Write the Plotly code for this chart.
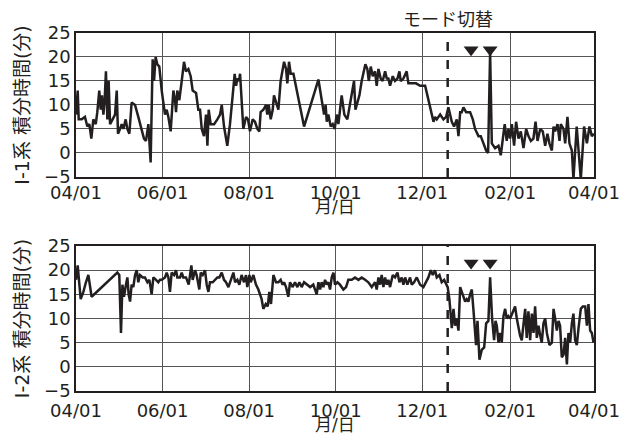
import pandas as pd
import plotly.graph_objects as go

BASE = pd.Timestamp("2018-04-01")

# ---- I-1 series (day offset from 04/01, value) ----
top_days = [0, 1.2, 1.9, 4.0, 6.3, 8.0, 9.4, 10.8, 12.2, 13.9, 15.0, 16.4, 17.4, 18.3, 19.3, 20.2,
            21.1, 22.1, 23.0, 24.0, 25.8, 27.5, 28.7, 29.6, 31.0, 32.2, 33.4, 35.0, 36.2, 37.6,
            39.2, 41.6, 43.9, 46.3, 47.9, 49.3, 51.0, 52.6, 54.0, 55.0, 56.1, 57.3, 58.7, 60.4,
            62.7, 63.9, 65.1, 66.7, 68.6, 69.8, 70.5, 71.4, 72.8, 74.5, 76.1, 77.5, 79.2, 80.8,
            82.2, 84.6, 86.2, 87.4, 88.6, 90.2, 91.6, 92.6, 93.5, 94.9, 97.3, 99.6, 101.5, 102.7,
            104.3, 106.6, 108.5, 110.4, 111.8, 112.8, 113.7, 114.9, 115.6, 116.7, 117.9, 119.8,
            121.2, 122.6, 124.5, 126.1, 127.8, 129.2, 130.1, 132.0, 133.9, 134.8, 135.8, 137.2,
            138.6, 139.5, 140.9, 142.6, 144.2, 145.6, 146.6, 148.0, 148.9, 150.1, 151.3, 153.2,
            155.5, 157.9, 160.7, 170.8, 173.1, 174.8, 175.9, 176.7, 177.8, 179.5, 180.9, 182.3,
            183.7, 184.9, 187.2, 189.1, 191.2, 193.6, 194.5, 195.9, 196.9, 197.8, 199.7, 201.3,
            202.5, 203.9, 205.3, 206.3, 207.7, 209.1, 210.7, 211.9, 213.1, 214.7, 216.1, 217.8,
            219.0, 220.1, 221.3, 223.2, 224.8, 226.5, 227.9, 228.8, 230.7, 233.0, 234.2, 236.6,
            239.6, 242.5, 246.0, 247.6, 250.0, 251.9, 253.0, 254.2, 256.6, 258.9, 260.8, 262.4,
            264.8, 266.4, 268.3, 269.5, 270.7, 271.8, 273.0, 274.9, 277.7, 279.6, 281.2, 283.6,
            285.2, 287.1, 289.0, 290.4, 291.8, 293.0, 295.3, 297.7, 299.3, 301.2, 302.1, 303.5,
            304.7, 305.9, 307.1, 308.7, 310.1, 311.8, 313.4, 315.3, 317.2, 318.8, 320.5, 322.3,
            323.8, 325.2, 327.1, 328.9, 330.6, 332.2, 333.6, 335.3, 336.5, 337.6, 339.3, 340.7,
            341.6, 343.5, 344.7, 346.3, 347.7, 349.4, 350.5, 352.8, 355.7, 358.0, 360.0, 361.8,
            363.5, 365.0]
top_vals = [8, 13, 7, 7, 7.5, 5.5, 6, 3, 7, 6, 8.5, 13, 9, 12, 8, 11,
            17, 7, 15, 6, 7, 8, 13, 4, 5, 6, 5, 7, 5, 4,
            10.5, 10, 7.5, 5, 3, 2.5, 6, -2, 19.5, 15, 20, 18.5, 18, 13,
            8, 9, 7.5, 4.5, 13, 11, 8.5, 13, 11, 15, 19, 17, 17.5, 16,
            13, 12.5, 9, 9, 5, 3.5, 8, 1.5, 9, 6, 6, 7, 8, 10,
            5.5, 1.5, 6, 12, 16.5, 14, 15.5, 15, 16.5, 11, 5, 7.5,
            7, 4.5, 7, 6.5, 5, 4.5, 8.5, 9, 10, 8, 10, 7,
            9, 12, 10.5, 9, 15, 17.5, 19, 17.5, 14.5, 19, 16.5, 16.5,
            13, 9, 5.5, 15.3, 11, 8, 10, 6.5, 8, 5.5, 6, 5,
            8, 6, 12, 8, 7, 11, 13, 15, 9, 10, 12, 15,
            17, 18.5, 17.5, 15, 18, 16, 17, 14, 17.5, 15.5, 15, 17,
            15.5, 15.5, 14, 16, 15, 15.5, 17, 15, 15.5, 17, 14.5, 14.5,
            14.5, 14, 14, 12, 9, 6.5, 7.5, 7, 8, 7, 7.5, 9.5,
            6.5, 5.5, 7, 3.5, 8.5, 8.5, 9.5, 8.5, 8.5, 7, 5, 3.5,
            3.5, 2, 0.5, 0, 21, 2, 1, 1.5, -0.5, 4, 6, 2.5,
            5, 3, 6, 1.5, 6.5, 3, 4.5, 1, 5, 3.5, 2.5, 3,
            6.5, 2.5, 5, 4.5, 1.5, 4, 2, 0.5, 5.5, 4.5, 6, 2.5,
            6, 5, 2, 7.5, 2, 0.5, -5.5, 5.5, -5.5, 5.5, 2, 5.5,
            3.5, 4]

# ---- I-2 series ----
bot_days = [0, 1.2, 3.3, 5.2, 7.0, 8.7, 11.0, 29.1, 30.5, 31.7, 32.7, 33.8, 35.2, 36.2, 37.1,
            38.1, 39.2, 40.4, 41.6, 42.8, 43.9, 45.1, 47.0, 48.6, 50.3, 51.7, 53.3, 54.5, 56.4,
            58.0, 59.2, 60.4, 62.7, 63.9, 65.1, 66.2, 67.4, 69.1, 70.5, 71.4, 73.3, 74.5, 75.6,
            77.5, 79.4, 81.3, 82.2, 83.9, 85.0, 86.9, 87.9, 89.3, 90.9, 92.1, 93.3, 94.4, 96.3,
            98.0, 99.6, 101.0, 102.7, 104.3, 105.7, 107.4, 109.0, 110.9, 112.1, 113.7, 115.1,
            116.7, 118.4, 119.8, 120.7, 122.2, 123.1, 125.0, 126.8, 128.5, 130.8, 132.0, 133.7,
            135.1, 136.2, 137.4, 139.1, 140.9, 142.6, 144.2, 145.6, 146.6, 148.0, 149.6, 150.8,
            152.7, 154.3, 156.0, 157.4, 159.0, 160.7, 162.6, 165.0, 167.2, 169.6, 170.8, 172.0,
            173.1, 174.3, 175.5, 176.7, 177.8, 179.0, 180.2, 181.4, 182.5, 184.2, 186.0, 188.4,
            190.3, 191.9, 194.3, 196.6, 199.0, 201.3, 203.7, 206.0, 208.4, 210.7, 211.9, 213.1,
            214.3, 215.4, 216.6, 217.8, 219.0, 220.1, 221.3, 223.2, 224.8, 226.5, 227.9, 229.5,
            230.7, 231.9, 233.5, 235.4, 236.6, 238.2, 240.1, 242.5, 244.8, 246.7, 248.3, 250.0,
            251.4, 253.0, 254.2, 256.1, 257.7, 259.4, 260.8, 261.9, 263.1, 264.8, 266.0, 267.1,
            268.3, 269.5, 270.7, 271.8, 273.0, 274.2, 275.3, 276.5, 277.7, 278.9, 280.0, 281.2,
            281.9, 282.9, 284.3, 285.9, 287.6, 289.0, 290.6, 291.8, 293.2, 294.6, 295.6, 296.5,
            297.7, 298.9, 300.0, 301.2, 302.4, 303.5, 304.7, 305.9, 307.8, 309.4, 310.6, 311.8,
            312.9, 314.1, 315.3, 316.5, 317.6, 318.8, 320.0, 321.2, 322.4, 323.5, 324.7, 325.9,
            327.1, 328.2, 329.4, 330.6, 331.8, 333.6, 335.3, 336.5, 337.6, 338.8, 340.0, 341.1,
            342.3, 343.5, 344.7, 345.9, 347.0, 348.2, 349.4, 350.5, 351.7, 352.9, 354.1, 355.7,
            357.1, 358.8, 360.0, 361.1, 362.3, 363.5, 364.7]
bot_vals = [18, 21, 14, 15.5, 17.5, 19, 14.5, 19.5, 19, 7, 17, 14.5, 17, 18.5, 15,
            13.5, 17, 16.5, 19, 20, 17.5, 19, 18.5, 18.5, 17.5, 18, 15, 18.5, 18,
            17.5, 18, 18, 18.5, 19.5, 18.5, 15.5, 19.5, 19, 20, 18.5, 18.5, 19.5, 18.5,
            18.5, 17, 21, 18, 20, 19, 16, 19.5, 19, 20, 17, 15.5, 17.5, 17.5,
            18, 18.5, 18.5, 19.5, 18, 17.5, 16.5, 18, 19.5, 17.5, 18, 17,
            19, 17.5, 19, 16.5, 19, 17.5, 19, 17, 16, 14, 12, 13,
            12.5, 15.5, 13, 19, 17.5, 17.5, 18, 17, 17.5, 16.5, 14.5, 17.5,
            16.5, 17.5, 16.5, 17.5, 16.5, 17.5, 17, 16.5, 17, 15, 17.5, 16,
            17.5, 16.5, 18, 17, 17.5, 16, 18.5, 19.5, 17, 17.5, 17, 16,
            16.5, 18, 18, 18.5, 18, 18.5, 18, 17.5, 16.5, 17.5, 16, 18.5,
            17, 19, 16.5, 18.5, 17, 18, 16.5, 19, 18.5, 19.5, 17.5, 18.5,
            17, 18.5, 17, 18.5, 17, 17.5, 18.5, 17, 16.5, 17.5, 18.5, 20,
            19, 20, 18.5, 19, 17.5, 18, 17, 16.5, 14, 8, 12, 8.5,
            10, 7.5, 16.5, 15.5, 14.5, 13.5, 14, 13.5, 15, 16, 12, 7,
            4.5, 9.5, 1.5, 3.5, 4, 9, 9.5, 18.5, 10, 5.5, 9.5, 8.5,
            5, 7, 5, 10.5, 12, 10, 10.5, 10, 11.5, 12.5, 10, 8,
            6.5, 5.5, 8.5, 12, 6, 11.5, 5.5, 11, 7, 12.5, 6, 8.5,
            6.5, 5, 9, 10, 7, 4.5, 5, 12, 10, 7.5, 9.5, 8.5,
            2, 2.5, 6, 0.5, 7, 5, 9, 11, 5.5, 4.5, 8, 12,
            12.5, 12.5, 8.5, 13, 7.5, 7, 5]

tick_dates = ["2018-04-01", "2018-06-01", "2018-08-01", "2018-10-01",
              "2018-12-01", "2019-02-01", "2019-04-01"]
tick_labels = ["04/01", "06/01", "08/01", "10/01", "12/01", "02/01", "04/01"]
y_ticks = [-5, 0, 5, 10, 15, 20, 25]

switch_day = 261.9
marker_days = [278.4, 291.8]
marker_vals = [21.5, 21.5]


def to_dates(days):
    return [BASE + pd.Timedelta(days=float(d)) for d in days]


INK = "#231f20"
FONT = "DejaVu Sans, Noto Sans CJK JP, sans-serif"
switch_date = to_dates([switch_day])[0]

fig = go.Figure()
fig.add_trace(go.Scatter(x=to_dates(top_days), y=top_vals, mode="lines",
                         line=dict(color=INK, width=2.5), xaxis="x", yaxis="y",
                         showlegend=False))
fig.add_trace(go.Scatter(x=to_dates(bot_days), y=bot_vals, mode="lines",
                         line=dict(color=INK, width=2.5), xaxis="x2", yaxis="y2",
                         showlegend=False))
for xa, ya in (("x", "y"), ("x2", "y2")):
    fig.add_trace(go.Scatter(x=to_dates(marker_days), y=marker_vals, mode="markers",
                             marker=dict(symbol="triangle-down", size=13, color=INK),
                             xaxis=xa, yaxis=ya, showlegend=False))
    fig.add_shape(type="line", xref=xa, yref=ya + " domain",
                  x0=switch_date, x1=switch_date, y0=0, y1=1,
                  line=dict(color=INK, width=2.5, dash="dash"))

xcommon = dict(range=[tick_dates[0], tick_dates[-1]], tickvals=tick_dates, ticktext=tick_labels,
               showgrid=True, gridcolor="#555555", gridwidth=1, automargin=False,
               showline=True, linecolor=INK, linewidth=1.5, mirror=True, ticks="",
               tickfont=dict(size=18, color=INK, family=FONT), zeroline=False)
ycommon = dict(range=[-5, 25], tickvals=y_ticks, showgrid=True, gridcolor="#555555", gridwidth=1,
               showline=True, linecolor=INK, linewidth=1.5, mirror=True, ticks="", automargin=False,
               zeroline=False, tickfont=dict(size=18, color=INK, family=FONT))
ytitle_font = dict(size=19, color=INK, family=FONT)
lab_font = dict(size=18, color=INK, family=FONT)
xt_font = dict(size=17, color=INK, family=FONT)

fig.update_layout(
    width=633, height=435,
    margin=dict(l=76, r=39, t=33, b=44),
    paper_bgcolor="white", plot_bgcolor="white",
    font=dict(family=FONT, color=INK),
    xaxis=dict(xcommon, anchor="y", domain=[0, 1], ticklabelstandoff=-1),
    yaxis=dict(ycommon, anchor="x", domain=[0.598, 1],
               title=dict(text="I-1系 積分時間(分)", font=ytitle_font, standoff=9)),
    xaxis2=dict(xcommon, anchor="y2", domain=[0, 1], ticklabelstandoff=3),
    yaxis2=dict(ycommon, anchor="x2", domain=[0, 0.405],
                title=dict(text="I-2系 積分時間(分)", font=ytitle_font, standoff=9)),
    annotations=[
        dict(text="モード切替", x=switch_date, xref="x", y=1, yref="paper",
             yanchor="bottom", showarrow=False, yshift=1, font=lab_font),
        dict(text="月/日", x=0.5, xref="x domain", y=0, yref="y domain",
             yanchor="top", showarrow=False, yshift=-19, font=xt_font, borderpad=0),
        dict(text="月/日", x=0.5, xref="x2 domain", y=0, yref="y2 domain",
             yanchor="top", showarrow=False, yshift=-23, font=xt_font, borderpad=0),
    ],
)

fig.write_html("out.html", config={"displayModeBar": False},
               post_script="document.body.style.margin='0px';")
